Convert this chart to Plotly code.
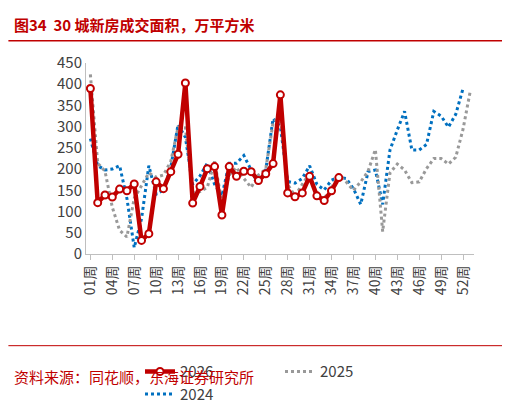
import plotly.graph_objects as go

weeks_2026 = list(range(1, 36))
v2026 = [390,121,139,134,153,149,165,32,48,170,154,194,235,403,120,159,201,206,92,206,183,195,194,173,189,213,375,144,135,144,183,137,126,149,180]
weeks_2025 = list(range(1, 54))
v2025 = [423,214,195,110,56,40,131,161,191,181,186,218,299,297,144,147,157,218,121,186,204,178,157,186,200,309,325,164,137,164,191,137,131,157,186,170,150,170,195,246,53,191,212,198,168,170,201,225,225,212,228,294,385]
weeks_2024 = list(range(1, 53))
v2024 = [272,208,198,200,208,131,15,83,208,141,151,204,305,275,164,184,214,164,137,214,214,232,198,164,198,319,300,171,167,178,208,164,151,174,181,178,154,117,194,198,117,245,292,336,245,245,258,336,325,299,329,390]
tick_vals = list(range(1, 53, 3))
tick_text = [f"{w:02d}周" for w in tick_vals]

fig = go.Figure()
fig.add_trace(go.Scatter(x=weeks_2024, y=v2024, name="2024", mode="lines",
                         line=dict(color="#0070C0", width=3, dash="dot")))
fig.add_trace(go.Scatter(x=weeks_2025, y=v2025, name="2025", mode="lines",
                         line=dict(color="#999999", width=3, dash="dot")))
fig.add_trace(go.Scatter(x=weeks_2026, y=v2026, name="2026", mode="lines+markers",
                         line=dict(color="#C00000", width=4.5),
                         marker=dict(size=7, color="white", line=dict(color="#C00000", width=2))))

fig.update_layout(
    width=510, height=414, plot_bgcolor="white", paper_bgcolor="white",
    margin=dict(l=78, r=44, t=55, b=136),
    font=dict(family="Noto Sans CJK SC", color="#404040"),
    showlegend=True,
    legend=dict(orientation="h", x=0.5, xanchor="center", y=-0.53, yanchor="top",
                traceorder="reversed", font=dict(size=15), entrywidth=95),
    xaxis=dict(range=[0.4, 53.5], tickvals=tick_vals, ticktext=tick_text, tickangle=-90,
               tickfont=dict(size=14), showgrid=False, showline=True, linecolor="#BFBFBF",
               ticks="outside", tickcolor="#BFBFBF", ticklen=5, zeroline=False),
    yaxis=dict(range=[0, 450], dtick=50, tickfont=dict(size=15), showgrid=False,
               showline=True, linecolor="#BFBFBF", zeroline=False),
    annotations=[
        dict(text="<b>图34  30 城新房成交面积，万平方米</b>", x=0, y=1, xref="paper", yref="paper",
             xanchor="left", yanchor="top", xshift=-74, yshift=51, showarrow=False,
             font=dict(size=15, color="#C00000")),
        dict(text="资料来源：同花顺，东海证券研究所", xref="paper", yref="paper", x=0, y=0,
             xanchor="left", yanchor="top", xshift=-74, yshift=-110, showarrow=False,
             font=dict(size=15, color="#C00000")),
    ],
    shapes=[
        dict(type="line", xref="paper", yref="paper", x0=-0.2, x1=1.11, y0=1.117, y1=1.117,
             line=dict(color="#C00000", width=1.5)),
        dict(type="line", xref="paper", yref="paper", x0=-0.2, x1=1.11, y0=-0.48, y1=-0.48,
             line=dict(color="#C00000", width=1)),
    ],
)
fig.write_html("out.html")
